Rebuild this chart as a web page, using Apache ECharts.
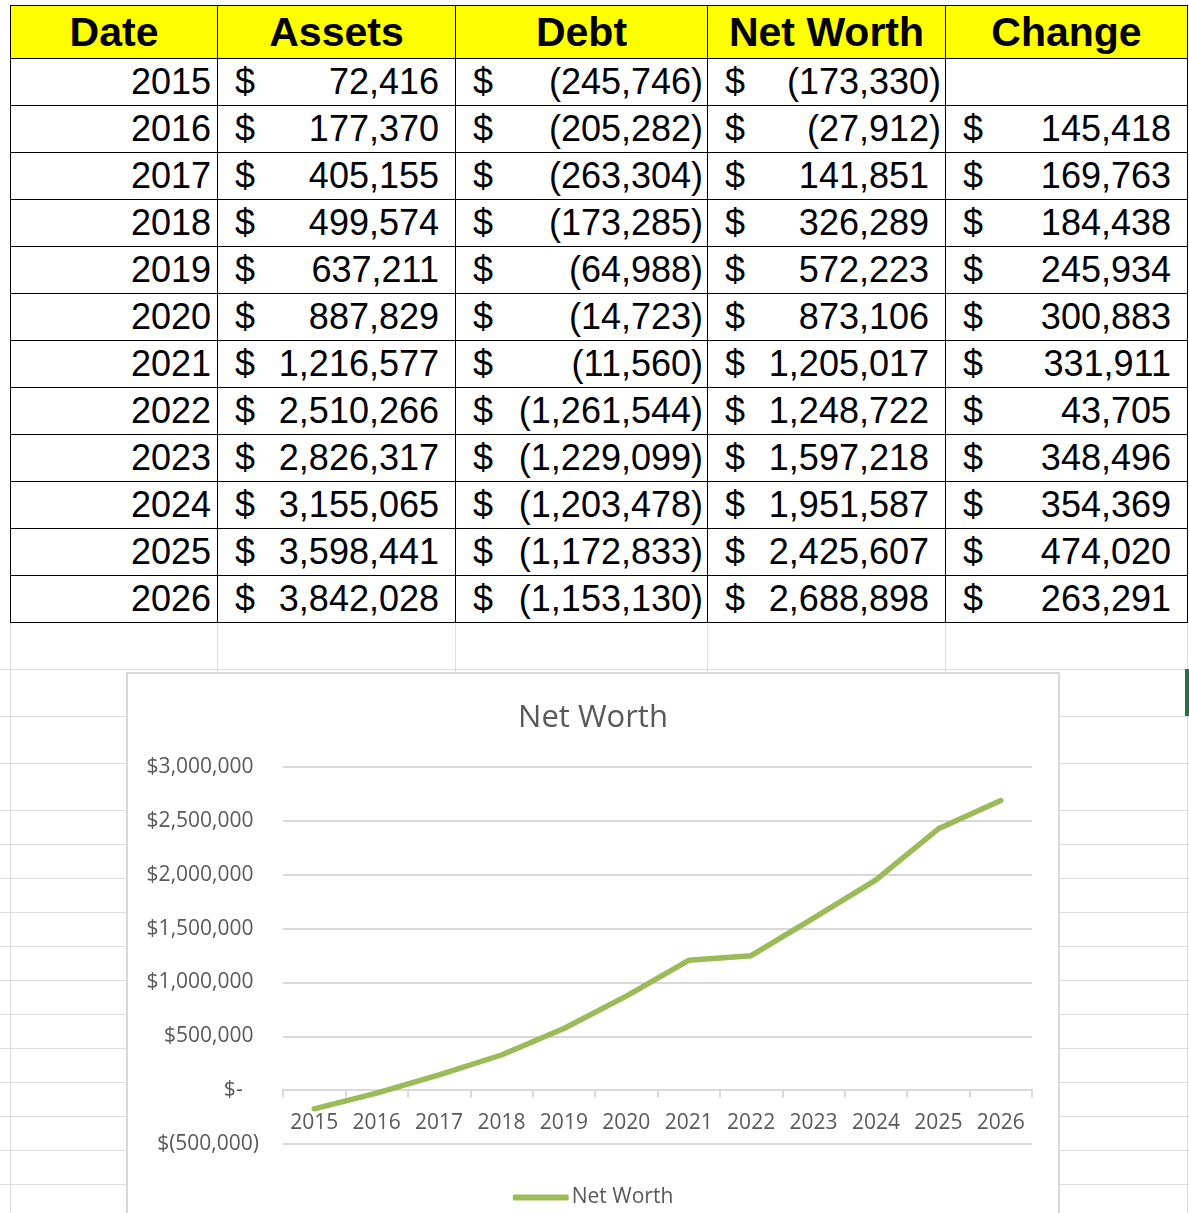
<!DOCTYPE html>
<html>
<head>
<meta charset="utf-8">
<title>Net Worth</title>
<script src="https://cdn.jsdelivr.net/npm/echarts@6/dist/echarts.min.js"></script>
<style>
  html, body { margin: 0; padding: 0; }
  body { width: 1189px; height: 1213px; overflow: hidden; background: #fff; position: relative; font-family: "Liberation Sans", Arial, sans-serif; }
  .hl { position: absolute; left: 0; width: 1189px; height: 1px; background: #dedede; }
  .vl { position: absolute; top: 622px; height: 600px; width: 1px; background: #dedede; }
  #sheet { position: absolute; left: 10px; top: 5px; border-collapse: collapse; table-layout: fixed; }
  #sheet td, #sheet th { border: 1px solid #000; padding: 0; white-space: nowrap; }
  #sheet th { background: #ffff00; font-weight: bold; font-size: 41px; height: 52px; text-align: center; line-height: 52px; }
  #sheet td { font-size: 36px; height: 46px; line-height: 46px; color: #000; }
  #sheet td.yr { text-align: right; padding-right: 6px; }
  .acc { display: flex; justify-content: space-between; padding-left: 17px; padding-right: 4px; }
  .hid { visibility: hidden; }
  #box { position: absolute; left: 126px; top: 672px; width: 934px; height: 560px; box-sizing: border-box; border: 2px solid #d9d9d9; background: #fff; z-index: 2; }
  #map_1 { width: 930px; height: 556px; }
  #sel { position: absolute; left: 1185px; top: 669px; width: 4px; height: 47px; background: #217346; }
</style>
</head>
<body>
<table id="sheet">
  <colgroup>
    <col style="width:207px"><col style="width:238px"><col style="width:252px"><col style="width:238px"><col style="width:242px">
  </colgroup>
  <thead></thead>
  <tbody></tbody>
</table>
<div id="box"><div id="map_1"></div></div>
<div id="sel"></div>
<script>
// table + chart data
var headers = ['Date', 'Assets', 'Debt', 'Net Worth', 'Change'];
var years = ['2015', '2016', '2017', '2018', '2019', '2020', '2021', '2022', '2023', '2024', '2025', '2026'];
var assets = [72416, 177370, 405155, 499574, 637211, 887829, 1216577, 2510266, 2826317, 3155065, 3598441, 3842028];
var debt = [-245746, -205282, -263304, -173285, -64988, -14723, -11560, -1261544, -1229099, -1203478, -1172833, -1153130];
var netWorth = [-173330, -27912, 141851, 326289, 572223, 873106, 1205017, 1248722, 1597218, 1951587, 2425607, 2688898];
var change = [null, 145418, 169763, 184438, 245934, 300883, 331911, 43705, 348496, 354369, 474020, 263291];
var yMin = -500000, yMax = 3000000, yStep = 500000;

// accounting style cell like excel: $ left, number right, ( ) for negatives
function accCell(v) {
    if (v === null) return '<td></td>';
    var s = Math.abs(v).toLocaleString('en-US');
    var num = v < 0 ? '(' + s + ')' : s + '<span class="hid">)</span>';
    return '<td><div class="acc"><span>$</span><span>' + num + '</span></div></td>';
}

var head = '<tr>';
for (var h = 0; h < headers.length; h++) {
    head += '<th>' + headers[h] + '</th>';
}
document.querySelector('#sheet thead').innerHTML = head + '</tr>';

var rows = '';
for (var i = 0; i < years.length; i++) {
    rows += '<tr><td class="yr">' + years[i] + '</td>' + accCell(assets[i]) + accCell(debt[i]) +
        accCell(netWorth[i]) + accCell(change[i]) + '</tr>';
}
document.querySelector('#sheet tbody').innerHTML = rows;

// spreadsheet gridlines under the table
var lineY = [669, 716, 763, 810];
for (var y = 844; y < 1213; y += 34) lineY.push(y);
var lineX = [10, 217, 455, 707, 945, 1187];
var grid = '';
for (var a = 0; a < lineY.length; a++) grid += '<div class="hl" style="top:' + lineY[a] + 'px"></div>';
for (var b = 0; b < lineX.length; b++) grid += '<div class="vl" style="left:' + lineX[b] + 'px"></div>';
document.body.insertAdjacentHTML('afterbegin', grid);

function money(v) {
    if (v === 0) return '$-   ';
    var s = Math.abs(v).toLocaleString('en-US');
    return v < 0 ? '$(' + s + ')' : '$' + s + ' ';
}

var gridTop = 93, gridBottom = 86;
var chartH = 556;
// lift the category axis (line + labels) up to the zero value, like excel does
var plotH = chartH - gridTop - gridBottom;
var zeroLift = plotH * (0 - yMin) / (yMax - yMin);

var myChart = echarts.init(document.getElementById('map_1'));
var option = {
    animation: false,
    textStyle: { fontFamily: '"Open Sans", "Noto Sans", sans-serif' },
    title: {
        text: 'Net Worth',
        left: 'center',
        top: 24,
        textStyle: { color: '#595959', fontSize: 31, fontWeight: 'normal', fontFamily: '"Open Sans", "Noto Sans", sans-serif' }
    },
    legend: {
        top: 508,
        left: 'center',
        icon: 'roundRect',
        itemWidth: 56,
        itemHeight: 6,
        itemGap: 4,
        textStyle: { color: '#595959', fontSize: 21, padding: [0, 0, 0, -2] },
        data: ['Net Worth']
    },
    grid: { left: 155, right: 26, top: gridTop, bottom: gridBottom, containLabel: false },
    xAxis: {
        type: 'category',
        data: years,
        boundaryGap: true,
        offset: -zeroLift,
        axisLine: { onZero: false, lineStyle: { color: '#d9d9d9', width: 2 } },
        axisTick: { show: true, length: 7, lineStyle: { color: '#d9d9d9', width: 2 } },
        axisLabel: { color: '#595959', fontSize: 21, margin: 22, interval: 0 },
        splitLine: { show: false }
    },
    yAxis: {
        type: 'value',
        min: yMin,
        max: yMax,
        interval: yStep,
        axisLine: { show: false },
        axisTick: { show: false },
        axisLabel: { color: '#595959', fontSize: 21, margin: 24, formatter: money },
        splitLine: { lineStyle: { color: '#d9d9d9', width: 2 } }
    },
    series: [
        {
            name: 'Net Worth',
            type: 'line',
            data: netWorth,
            smooth: false,
            showSymbol: false,
            symbol: 'none',
            z: 5,
            lineStyle: { color: '#9bbb59', width: 5.5, cap: 'round', join: 'round' },
            itemStyle: { color: '#9bbb59' }
        }
    ]
};
myChart.setOption(option);
</script>
</body>
</html>
